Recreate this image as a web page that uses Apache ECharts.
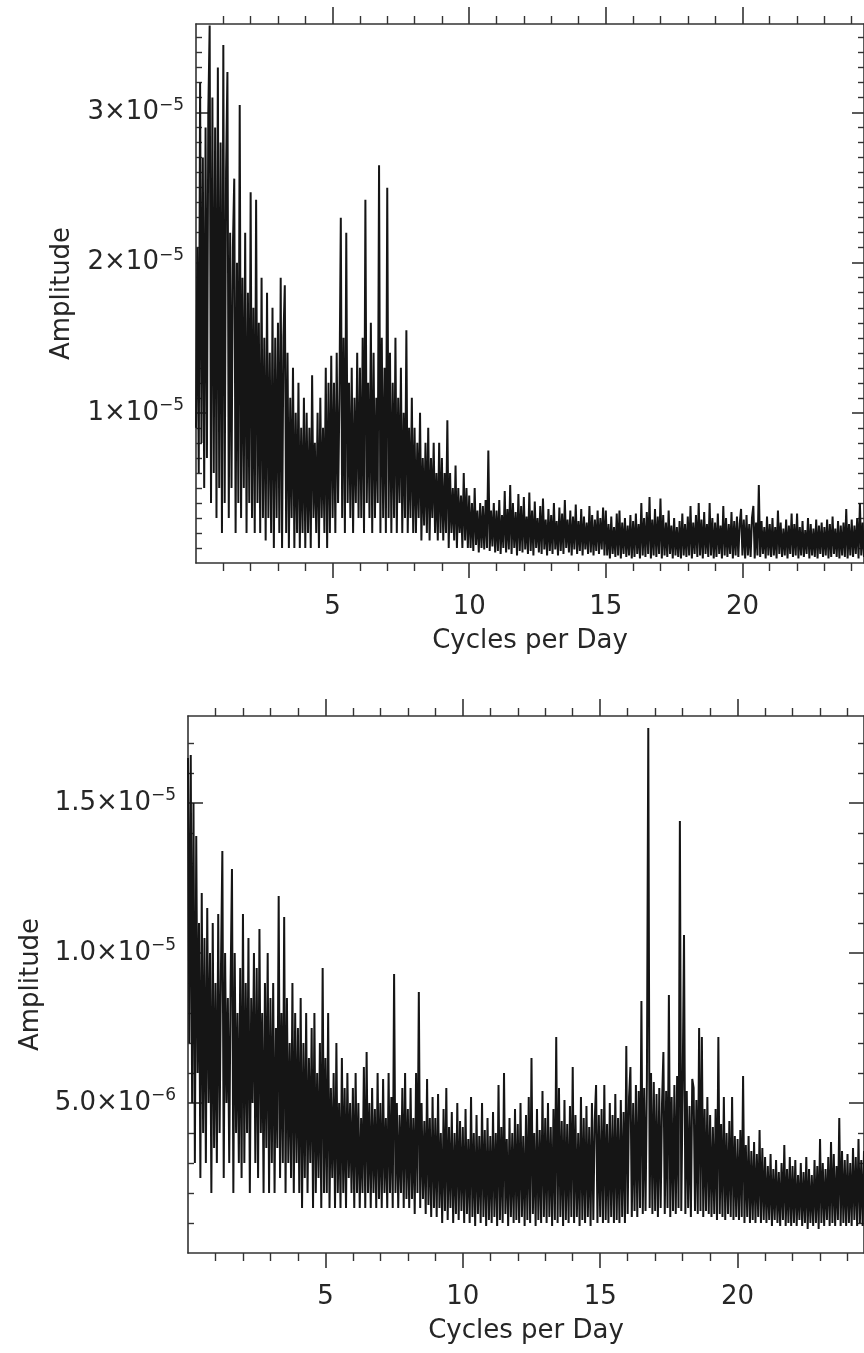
<!DOCTYPE html>
<html>
<head>
<meta charset="utf-8">
<script src="https://cdn.jsdelivr.net/npm/echarts@6/dist/echarts.min.js"></script>
<style>
  html, body { margin: 0; padding: 0; background: #ffffff; overflow: hidden; }
  #chart { width: 864px; height: 1353px; }
</style>
</head>
<body>
<div id="chart"></div>
<script>
// Frequency grid step (cycles per day) of the amplitude spectra
const FREQ_STEP = 0.05;

// Top panel amplitudes, units of 1e-6, from 0 c/d in steps of FREQ_STEP
const TOP_AMPLITUDE = [
  9, 21, 6, 32, 8, 27, 5, 29, 7, 30, 35.8, 4, 31, 6, 29, 3, 33, 5, 28, 2,
  34.5, 4, 26, 32.7, 3, 22, 5, 21, 25.6, 2, 20, 4, 30.5, 3, 19, 5, 22, 2, 18, 4,
  24.7, 3, 17, 2, 24.2, 4, 16, 2, 19, 3, 15, 1.5, 18, 3, 14, 2, 17, 1, 15, 3,
  16, 2, 19, 1, 15, 18.5, 2, 14, 1, 11, 3, 13, 1, 10, 2, 12, 1, 9, 2, 11,
  1, 10, 2, 9, 1, 12.5, 3, 8, 2, 10, 1, 11, 3, 9, 2, 13, 1, 12, 2, 13.8,
  3, 12, 2, 14, 4, 11, 23, 3, 15, 2, 22, 4, 12, 3, 13, 2, 11, 4, 14, 3,
  13, 3, 15, 2, 24.2, 4, 12, 3, 16, 2, 14, 3, 11, 4, 26.5, 2, 15, 3, 13, 2,
  25, 3, 14, 2, 12, 3, 15, 2, 11, 4, 13, 2, 10, 3, 15.5, 2, 9, 3, 11, 2,
  9, 2, 8, 3, 10, 1.5, 7, 2.5, 8, 2, 9, 1.5, 7, 3, 8, 2, 6, 1.5, 8, 2,
  7, 1.5, 6, 2, 9.5, 1, 6, 2, 5, 1.5, 6.5, 1, 5, 2, 4.5, 1, 6, 1.5, 5, 1,
  4.5, 1, 4, 0.8, 5, 1.2, 3.5, 0.7, 4, 1, 3.8, 0.9, 4.2, 1, 7.5, 0.8, 3.5, 1.1, 4, 0.7,
  3.5, 0.8, 4.2, 0.6, 3.2, 1, 4.8, 0.7, 3.6, 0.9, 5.2, 0.6, 4, 1, 3.4, 0.5, 4.6, 0.8, 3.8, 0.7,
  4.4, 0.9, 3.1, 0.6, 4.7, 0.8, 3.5, 0.5, 4.1, 1, 3, 0.7, 3.8, 0.6, 4.3, 0.9, 2.9, 0.5, 3.6, 0.8,
  3.2, 0.6, 4, 0.9, 2.8, 0.5, 3.7, 0.8, 3.3, 0.6, 4.2, 1, 2.9, 0.7, 3.5, 0.5, 3.1, 0.9, 3.9, 0.6,
  2.8, 0.8, 3.6, 0.5, 3.1, 0.9, 2.7, 0.6, 3.8, 0.7, 3.2, 0.5, 2.9, 0.8, 3.5, 0.6, 3.0, 0.9, 3.7, 0.5,
  3.5, 0.5, 2.6, 0.3, 3.1, 0.6, 2.4, 0.4, 3.3, 0.5, 3.5, 0.3, 2.7, 0.6, 3.0, 0.4, 2.5, 0.5, 3.2, 0.3,
  2.8, 0.4, 3.3, 0.6, 2.6, 0.3, 4.0, 0.5, 3.0, 0.4, 3.4, 0.6, 4.4, 0.3, 2.9, 0.5, 3.6, 0.4, 3.1, 0.6,
  4.3, 0.3, 3.2, 0.5, 2.7, 0.4, 3.5, 0.6, 2.5, 0.3, 3.0, 0.5, 2.4, 0.4, 2.8, 0.3, 3.3, 0.5, 2.6, 0.4,
  3.1, 0.5, 3.8, 0.3, 2.7, 0.6, 3.2, 0.4, 4.0, 0.5, 2.9, 0.3, 3.4, 0.6, 2.6, 0.4, 4.0, 0.5, 3.0, 0.3,
  2.7, 0.4, 3.3, 0.6, 2.5, 0.3, 3.8, 0.5, 3.0, 0.4, 2.6, 0.6, 3.4, 0.3, 2.8, 0.5, 3.1, 0.4, 2.6, 3.6,
  0.5, 2.9, 0.3, 3.2, 0.5, 2.6, 0.4, 3.0, 3.8, 0.3, 2.7, 0.5, 5.2, 0.4, 2.8, 0.6, 2.4, 0.3, 3.1, 0.5,
  2.6, 0.4, 3.0, 0.5, 2.4, 0.3, 3.5, 0.6, 2.7, 0.4, 2.3, 0.5, 2.9, 0.3, 2.5, 0.6, 3.3, 0.4, 2.6, 0.5,
  3.3, 0.3, 2.4, 0.5, 2.8, 0.4, 2.2, 0.6, 3.0, 0.3, 2.6, 0.5, 2.3, 0.4, 2.9, 0.3, 2.5, 0.6, 2.7, 0.4,
  2.4, 0.5, 2.9, 0.3, 2.6, 0.4, 3.1, 0.6, 2.3, 0.4, 2.8, 0.3, 2.5, 0.5, 2.7, 0.4, 3.6, 0.3, 2.6, 0.5,
  2.9, 0.4, 2.5, 0.6, 3.0, 0.3, 4.0, 0.5, 2.7, 0.4
];

// Bottom panel amplitudes, units of 1e-6, from 0 c/d in steps of FREQ_STEP
const BOTTOM_AMPLITUDE = [
  16.5, 7, 16.6, 5, 15, 3, 13.9, 6, 11, 2.5, 12, 4, 10.5, 3, 11.5, 5, 10, 2, 11, 3.5,
  9, 3, 11.3, 4, 9.5, 13.4, 2.5, 10, 5, 8.5, 3, 9, 12.8, 2, 10, 4, 8, 3, 9.5, 2.5,
  11.3, 3, 9, 4, 10.5, 2, 8.5, 5, 10, 3, 9.5, 2.5, 10.8, 4, 8, 2, 9, 3.5, 10, 2,
  8.5, 3, 9, 2, 7.5, 3.5, 11.9, 2.5, 8, 3, 11.2, 2, 8.5, 3, 7, 2.5, 9, 2, 8, 3,
  7.5, 2, 8.5, 1.5, 7, 2.5, 8, 2, 6.5, 3, 7.5, 1.5, 8, 2, 6, 2.5, 7, 1.5, 9.5, 2,
  6.5, 2, 8, 1.5, 5.5, 2.5, 6, 1.5, 7, 2, 5, 1.5, 6.5, 2, 5.5, 1.5, 6, 2.5, 5, 2,
  5.5, 1.5, 6, 2, 5, 1.5, 4.5, 2, 6.2, 1.5, 6.7, 2, 5, 1.5, 5.5, 2, 4.8, 1.5, 6, 1.8,
  5, 1.5, 5.8, 2, 4.5, 1.5, 6, 2, 5.2, 1.5, 9.3, 2, 5, 1.5, 4.6, 2, 5.5, 1.5, 6, 1.8,
  4.8, 1.5, 5.5, 1.8, 4.5, 1.3, 6, 2, 8.7, 1.5, 5, 1.8, 4.4, 1.3, 5.8, 1.6, 4.5, 1.2, 5.2, 1.5,
  4.5, 1.2, 5.3, 1.5, 4, 1, 4.8, 1.4, 5.5, 1.1, 4.2, 1.5, 4.7, 1, 4, 1.3, 5, 1.1, 4.4, 1.4,
  4.2, 1, 4.8, 1.3, 3.8, 1, 5.2, 1.2, 4, 0.9, 4.6, 1.3, 3.9, 1, 5, 1.2, 4.1, 0.9, 4.5, 1.1,
  3.9, 1, 4.7, 1.2, 4, 0.9, 5.6, 1.1, 4.2, 1, 6, 1.3, 3.8, 0.9, 4.5, 1.2, 4, 1, 4.8, 1.1,
  4.3, 1, 5, 1.2, 3.9, 0.9, 4.6, 1.1, 5.2, 1, 6.5, 1.3, 4, 0.9, 4.8, 1.1, 4.1, 1, 5.4, 1.2,
  4.5, 1, 5, 1.2, 4.2, 0.9, 4.8, 1.1, 7.2, 1, 5.5, 1.2, 4.4, 0.9, 5.1, 1.1, 4.3, 1, 4.9, 1.2,
  6.2, 1, 4.6, 1.2, 4, 0.9, 5.2, 1.1, 4.5, 1, 4.9, 1.2, 4.2, 0.9, 5, 1.1, 4.4, 5.6, 1, 4.6,
  1.2, 4.8, 1, 5.6, 1.1, 4.3, 1, 5, 1.2, 4.6, 1, 5.3, 1.1, 4.5, 1, 5.1, 1.2, 4.7, 1, 6.9,
  1.3, 5.2, 6.2, 1.2, 5, 1.4, 5.6, 1.2, 5.4, 1.5, 8.4, 1.3, 5.5, 1.4, 5.8, 17.5, 1.5, 6, 1.3, 5.7,
  1.4, 5.3, 1.2, 5.5, 1.5, 5, 6.7, 1.3, 5.4, 1.5, 8.6, 1.2, 5.2, 1.4, 5.6, 1.3, 5.9, 1.5, 14.4, 1.4,
  5.5, 10.6, 1.3, 5.4, 1.5, 4.9, 1.2, 5.8, 5.5, 1.4, 5.1, 1.3, 7.5, 1.4, 7.2, 1.2, 4.8, 1.4, 5.2, 1.3,
  4.6, 1.2, 4.2, 1.3, 4.8, 1.1, 7.2, 1.3, 4.3, 1.2, 5.2, 1.1, 4, 1.3, 4.4, 1.2, 5.2, 1.1, 3.9, 1.2,
  3.8, 1.1, 4.1, 1.2, 5.9, 1, 3.6, 1.2, 3.9, 1, 3.4, 1.1, 3.7, 1, 3.3, 1.2, 4.1, 1, 3.5, 1.1,
  3.2, 1, 2.9, 1.1, 3.3, 0.9, 2.8, 1.1, 3.1, 1, 2.7, 0.9, 3.0, 1.1, 3.6, 0.9, 2.8, 1, 3.2, 0.9,
  2.9, 1, 3.1, 0.9, 2.6, 1.1, 3.0, 0.9, 2.7, 1, 3.2, 0.8, 2.8, 1, 2.6, 0.9, 3.1, 1, 2.9, 0.8,
  3.8, 1, 3.0, 0.9, 2.8, 1.1, 3.2, 0.9, 3.7, 1, 3.3, 0.9, 2.9, 1.1, 4.5, 0.9, 3.4, 1, 3.1, 0.9,
  3.3, 1, 3.0, 0.9, 3.5, 1.1, 3.2, 0.9, 3.8, 1, 3.1, 0.9, 3.4
];

// Axis ranges and tick labels
const X_TICKS = [5, 10, 15, 20];
const TOP_X_MAX = 24.45;
const BOTTOM_X_MAX = 24.6;
const TOP_Y_MAX = 35.9;          // 1e-6 units
const BOTTOM_Y_MAX = 17.9;       // 1e-6 units
const TOP_Y_TICKS = [10, 20, 30];
const TOP_Y_MANTISSA = ['1×10', '2×10', '3×10'];
const TOP_Y_EXPONENT = ['−5', '−5', '−5'];
const BOTTOM_Y_TICKS = [5, 10, 15];
const BOTTOM_Y_MANTISSA = ['5.0×10', '1.0×10', '1.5×10'];
const BOTTOM_Y_EXPONENT = ['−6', '−5', '−5'];
const X_TITLE = 'Cycles per Day';
const Y_TITLE = 'Amplitude';

const FONT = '"DejaVu Sans", "Liberation Sans", sans-serif';
const AXIS_COLOR = '#333333';
const TEXT_COLOR = '#262626';
const DATA_COLOR = '#151515';

function toPairs(vals) {
  return vals.map((v, i) => [Math.round(i * FREQ_STEP * 100) / 100, v]);
}

function yFormatter(ticks, mant, expo) {
  return function (v) {
    for (let i = 0; i < ticks.length; i++) {
      if (Math.abs(v - ticks[i]) < 1e-9) return '{m|' + mant[i] + '}{e|' + expo[i] + '}';
    }
    return '';
  };
}

const richStyle = {
  m: { fontSize: 26, fontFamily: FONT, color: TEXT_COLOR, lineHeight: 30 },
  e: { fontSize: 17, fontFamily: FONT, color: TEXT_COLOR, padding: [0, 0, 14, 0] }
};

function xAxes(gridIndex, xMax) {
  const base = {
    gridIndex, type: 'value', min: 0, max: xMax, interval: 5,
    splitLine: { show: false }, minorSplitLine: { show: false },
    axisLine: { show: true, onZero: false, lineStyle: { color: AXIS_COLOR, width: 1.6 } }
  };
  return [
    Object.assign({}, base, {
      position: 'bottom',
      axisTick: { show: true, inside: false, length: 15, customValues: X_TICKS, lineStyle: { color: AXIS_COLOR, width: 1.6 } },
      minorTick: { show: true, splitNumber: 5, length: 8, lineStyle: { color: AXIS_COLOR, width: 1.4 } },
      axisLabel: { show: true, customValues: X_TICKS, margin: 31, fontSize: 26, fontFamily: FONT, color: TEXT_COLOR },
      name: X_TITLE, nameLocation: 'middle', nameGap: 65,
      nameTextStyle: { fontSize: 26, fontFamily: FONT, color: TEXT_COLOR }
    }),
    Object.assign({}, base, {
      position: 'top',
      axisTick: { show: true, inside: false, length: 17, customValues: X_TICKS, lineStyle: { color: AXIS_COLOR, width: 1.6 } },
      minorTick: { show: true, splitNumber: 5, length: 8, lineStyle: { color: AXIS_COLOR, width: 1.4 } },
      axisLabel: { show: false }
    })
  ];
}

function yAxes(gridIndex, yMax, interval, minorSplit, ticks, mant, expo, majorLen, nameGap) {
  const base = {
    gridIndex, type: 'value', min: 0, max: yMax, interval: interval,
    splitLine: { show: false }, minorSplitLine: { show: false },
    axisLine: { show: true, onZero: false, lineStyle: { color: AXIS_COLOR, width: 1.6 } },
    axisTick: { show: true, inside: true, length: majorLen, customValues: ticks, lineStyle: { color: AXIS_COLOR, width: 1.6 } },
    minorTick: { show: true, splitNumber: minorSplit, length: 6, lineStyle: { color: AXIS_COLOR, width: 1.4 } }
  };
  return [
    Object.assign({}, base, {
      position: 'left',
      axisLabel: {
        show: true, customValues: ticks, margin: 12,
        formatter: yFormatter(ticks, mant, expo), rich: richStyle
      },
      name: Y_TITLE, nameLocation: 'middle', nameRotate: 90, nameGap: nameGap,
      nameTextStyle: { fontSize: 26, fontFamily: FONT, color: TEXT_COLOR }
    }),
    Object.assign({}, base, {
      position: 'right',
      axisLabel: { show: false }
    })
  ];
}

const chart = echarts.init(document.getElementById('chart'), null, { renderer: 'canvas' });

const option = {
  backgroundColor: '#ffffff',
  animation: false,
  grid: [
    { left: 196, top: 24, width: 670, height: 539 },
    { left: 188, top: 716, width: 678, height: 537 }
  ],
  xAxis: [].concat(xAxes(0, TOP_X_MAX), xAxes(1, BOTTOM_X_MAX)),
  yAxis: [].concat(
    yAxes(0, TOP_Y_MAX, 10, 10, TOP_Y_TICKS, TOP_Y_MANTISSA, TOP_Y_EXPONENT, 12, 121),
    yAxes(1, BOTTOM_Y_MAX, 5, 5, BOTTOM_Y_TICKS, BOTTOM_Y_MANTISSA, BOTTOM_Y_EXPONENT, 15, 143)
  ),
  series: [
    {
      type: 'line', xAxisIndex: 0, yAxisIndex: 0, data: toPairs(TOP_AMPLITUDE),
      showSymbol: false, symbol: 'none', silent: true, clip: true,
      lineStyle: { color: DATA_COLOR, width: 2 }
    },
    {
      type: 'line', xAxisIndex: 2, yAxisIndex: 2, data: toPairs(BOTTOM_AMPLITUDE),
      showSymbol: false, symbol: 'none', silent: true, clip: true,
      lineStyle: { color: DATA_COLOR, width: 2 }
    }
  ]
};

chart.setOption(option);
</script>
</body>
</html>
